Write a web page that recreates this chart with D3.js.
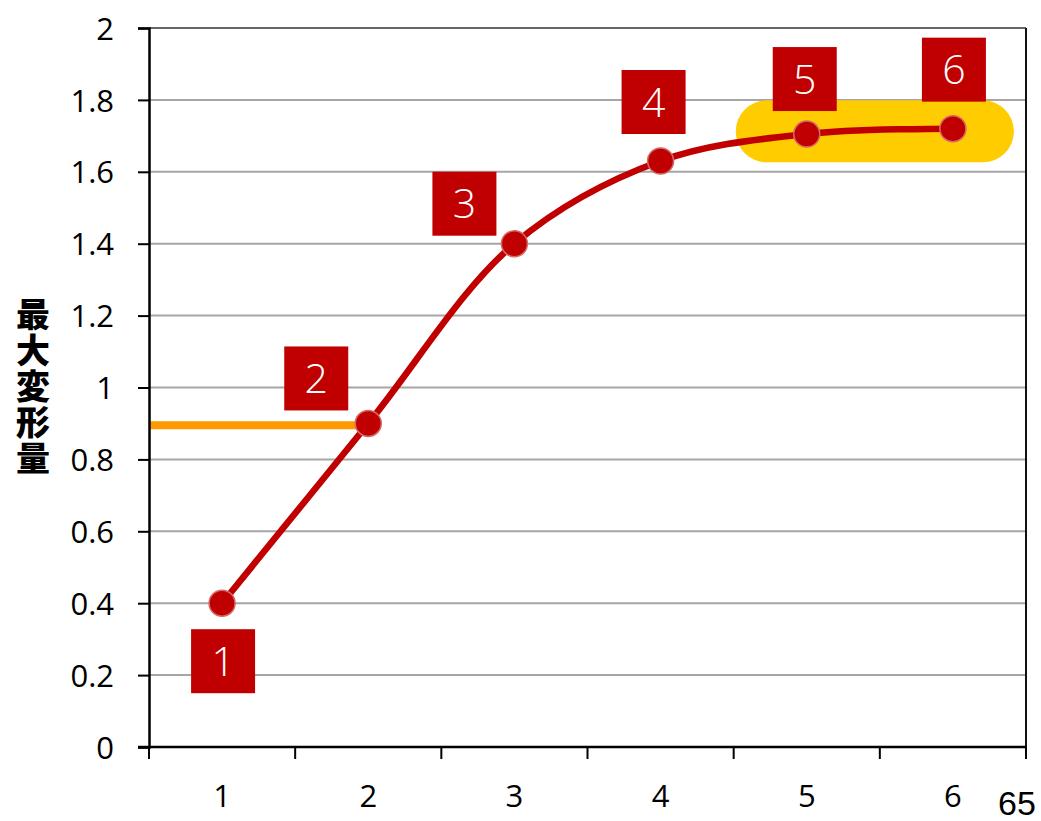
<!DOCTYPE html>
<html>
<head>
<meta charset="utf-8">
<script src="https://cdn.jsdelivr.net/npm/d3@7/dist/d3.min.js"></script>
<style>
  html, body { margin: 0; padding: 0; background: #fff; }
  svg { display: block; }
</style>
</head>
<body>
<svg id="chart" width="1041" height="821"></svg>
<script>
// Steps along the x axis and the measured maximum deformation at each step
const categories = ["1", "2", "3", "4", "5", "6"];
const values = [0.4, 0.9, 1.4, 1.63, 1.705, 1.72];
const yTicks = [0, 0.2, 0.4, 0.6, 0.8, 1, 1.2, 1.4, 1.6, 1.8, 2];
const yTickLabels = ["0", "0.2", "0.4", "0.6", "0.8", "1", "1.2", "1.4", "1.6", "1.8", "2"];
const yTitle = "最大変形量";
const referenceValue = 0.895;          // orange reference level
const plateauCategories = ["5", "6"];  // highlighted plateau
const pageNumber = "65";

const svg = d3.select("#chart");
const margin = { left: 149, right: 1026, top: 28, bottom: 747 };

const x = d3.scaleBand().domain(categories).range([margin.left, margin.right]).padding(0);
const y = d3.scaleLinear().domain([0, 2]).range([margin.bottom, margin.top]);
const cx = c => x(c) + x.bandwidth() / 2;

const font = "'Open Sans', 'Noto Sans', sans-serif";

// gridlines
svg.append("g")
  .selectAll("line")
  .data(yTicks.filter(v => v > 0))
  .join("line")
  .attr("x1", margin.left).attr("x2", margin.right)
  .attr("y1", d => y(d)).attr("y2", d => y(d))
  .attr("stroke", "#a6a6a6").attr("stroke-width", 2);

// plot border (top / right)
svg.append("line")
  .attr("x1", margin.left).attr("x2", margin.right)
  .attr("y1", y(2)).attr("y2", y(2))
  .attr("stroke", "#666").attr("stroke-width", 2);
svg.append("line")
  .attr("x1", margin.right).attr("x2", margin.right)
  .attr("y1", margin.top).attr("y2", margin.bottom)
  .attr("stroke", "#111").attr("stroke-width", 2);

// plateau highlight
const hx0 = cx(plateauCategories[0]) - 71;
const hx1 = cx(plateauCategories[1]) + 61;
const hMid = y(d3.mean(plateauCategories.map(c => values[categories.indexOf(c)])));
svg.append("rect")
  .attr("x", hx0).attr("y", hMid - 31)
  .attr("width", hx1 - hx0).attr("height", 62)
  .attr("rx", 31).attr("ry", 31)
  .attr("fill", "#ffcc00");

// reference line
svg.append("line")
  .attr("x1", margin.left).attr("x2", cx("2") - 10)
  .attr("y1", y(referenceValue)).attr("y2", y(referenceValue))
  .attr("stroke", "#ff9900").attr("stroke-width", 8);

// y axis
const yAxis = svg.append("g")
  .attr("transform", `translate(${margin.left},0)`)
  .call(d3.axisLeft(y).tickValues(yTicks)
    .tickFormat((d, i) => yTickLabels[i]).tickSize(11).tickPadding(24));
yAxis.select(".domain").attr("stroke", "#000").attr("stroke-width", 2.5);
yAxis.selectAll(".tick line").attr("stroke", "#000").attr("stroke-width", 2);
yAxis.selectAll(".tick text")
  .attr("font-family", font).attr("font-size", 31).attr("font-weight", 400)
  .attr("fill", "#000")
  .attr("dy", "0.36em");

// x axis: ticks at band edges, labels centred in bands
const xAxis = svg.append("g").attr("transform", `translate(0,${margin.bottom})`);
xAxis.append("line")
  .attr("x1", margin.left - 11).attr("x2", margin.right)
  .attr("stroke", "#000").attr("stroke-width", 2.5);
const edges = categories.map(c => x(c)).concat([x(categories[categories.length - 1]) + x.bandwidth()]);
xAxis.selectAll("line.tk")
  .data(edges)
  .join("line").attr("class", "tk")
  .attr("x1", d => d).attr("x2", d => d)
  .attr("y1", 0).attr("y2", 12)
  .attr("stroke", "#000").attr("stroke-width", 2);
xAxis.selectAll("text.lbl")
  .data(categories)
  .join("text").attr("class", "lbl")
  .attr("x", d => cx(d)).attr("y", 60)
  .attr("text-anchor", "middle")
  .attr("font-family", font).attr("font-size", 31).attr("font-weight", 400)
  .attr("fill", "#000")
  .text(d => d);

// y title, set vertically
svg.append("text")
  .attr("x", 33)
  .attr("y", 387)
  .attr("text-anchor", "middle")
  .style("writing-mode", "vertical-rl")
  .style("text-orientation", "upright")
  .style("letter-spacing", "2px")
  .attr("font-family", "'Noto Sans CJK JP', sans-serif")
  .attr("font-weight", 900)
  .attr("font-size", 34)
  .attr("fill", "#000")
  .text(yTitle);

// smoothed series line
const pts = categories.map((c, i) => [cx(c), y(values[i])]);
svg.append("path")
  .attr("d", d3.line().curve(d3.curveCatmullRom.alpha(0.5))(pts))
  .attr("fill", "none")
  .attr("stroke", "#c00000")
  .attr("stroke-width", 6.5)
  .attr("stroke-linecap", "round");

// markers
svg.append("g").selectAll("circle")
  .data(pts)
  .join("circle")
  .attr("cx", d => d[0]).attr("cy", d => d[1])
  .attr("r", 13)
  .attr("fill", "#c00000")
  .attr("stroke", "#d46a6a").attr("stroke-width", 1.5);

// numbered callouts beside each point
const calloutOffsets = [[1, 58], [-52, -45], [-50, -40], [-7, -59], [-2, -55], [1, -59]];
const box = 64;
const callouts = svg.append("g").selectAll("g")
  .data(categories)
  .join("g")
  .attr("transform", (d, i) =>
    `translate(${pts[i][0] + calloutOffsets[i][0]},${pts[i][1] + calloutOffsets[i][1]})`);
callouts.append("rect")
  .attr("x", -box / 2).attr("y", -box / 2)
  .attr("width", box).attr("height", box)
  .attr("fill", "#c00000");
callouts.append("text")
  .attr("text-anchor", "middle")
  .attr("dy", "0.36em")
  .attr("font-family", font)
  .attr("font-size", 41).attr("font-weight", 300)
  .attr("fill", "#fff")
  .text(d => d);

// page number
svg.append("text")
  .attr("x", 1017).attr("y", 815)
  .attr("text-anchor", "middle")
  .attr("font-family", "'Liberation Sans', Arial, sans-serif")
  .attr("font-size", 34)
  .attr("fill", "#000")
  .text(pageNumber);
</script>
</body>
</html>
